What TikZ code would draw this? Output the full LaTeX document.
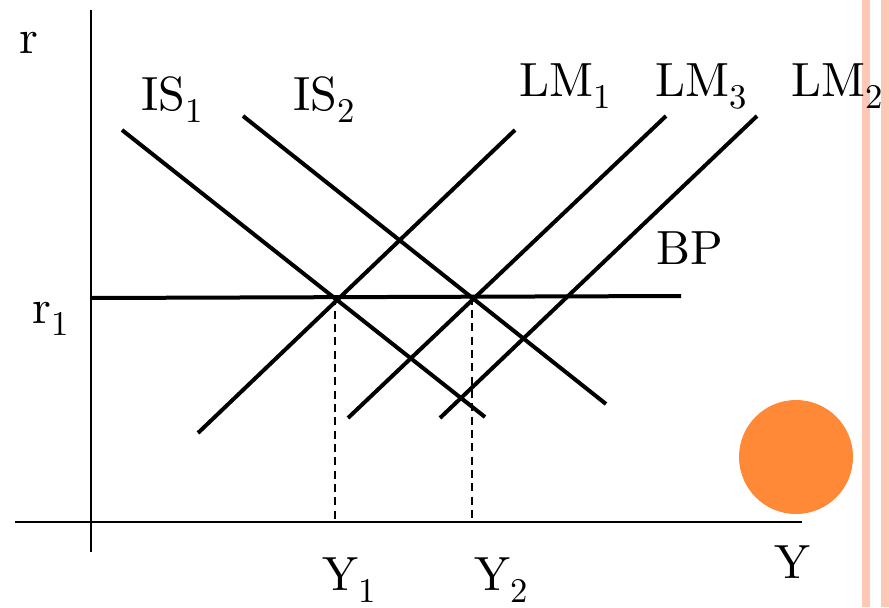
\documentclass[tikz,border=0pt]{standalone}
\usepackage{fontspec}
\setmainfont{lmroman10-regular}[Extension=.otf]
\definecolor{BarPink}{HTML}{FDC8B5}
\definecolor{DotOrange}{HTML}{FF8936}
\definecolor{Ink}{HTML}{000000}
\newcommand{\lowidx}[1]{\raisebox{-0.27em}{\fontsize{26}{28}\selectfont #1}}

\begin{document}
\begin{tikzpicture}[x=0.75pt,y=-0.75pt,every node/.style={text=Ink,font=\fontsize{36}{40}\selectfont},lbl/.style={anchor=base west,inner sep=0pt},axis/.style={draw=Ink,line width=2.2pt},curve/.style={draw=Ink,line width=3pt},guide/.style={draw=Ink,line width=1.5pt,dash pattern=on 6pt off 4pt}]
\useasboundingbox (0,0) rectangle (889,607);
\fill[white] (0,0) rectangle (889,607);
% right border bars and dot
\fill[BarPink] (862,0) rectangle (870,607);
\fill[BarPink] (881,0) rectangle (888.5,607);
\fill[DotOrange] (796,457) circle (57);
% axes
\draw[axis] (91,10) -- (91,552);
\draw[axis] (15,522) -- (802,522);
% curves
\foreach \name/\a/\b in {bp/{91,298}/{681,296},is1/{122,130}/{485,417},is2/{243,116}/{606,404},lm1/{198,433}/{515,130},lm3/{348,418}/{666,116},lm2/{440,418}/{757,116}}{
  \coordinate (\name-s) at (\a); \coordinate (\name-e) at (\b);
  \draw[curve] (\name-s) -- (\name-e);
}
% equilibria
\coordinate (e1) at (335,297.2);
\coordinate (e2) at (472,296.7);
\draw[guide] (e1) -- (e1 |- 0,522);
\draw[guide] (e2) -- (e2 |- 0,522);
% labels
\node[lbl] (r) at (19,53) {r};
\node[lbl] (r1) at (32,323) {r\lowidx{1}};
\node[lbl] (is1l) at (141,110) {IS\lowidx{1}};
\node[lbl] (is2l) at (293,110) {IS\lowidx{2}};
\node[lbl] (lm1l) at (519,96) {LM\lowidx{1}};
\node[lbl] (lm3l) at (655,96) {LM\lowidx{3}};
\node[lbl] (lm2l) at (791,96) {LM\lowidx{2}};
\node[lbl] (bpl) at (656,264) {BP};
\node[lbl] (y) at (774,578) {Y};
\node[lbl] (y1) at (322,590) {Y\lowidx{1}};
\node[lbl] (y2) at (474,590) {Y\lowidx{2}};
\end{tikzpicture}
\end{document}
